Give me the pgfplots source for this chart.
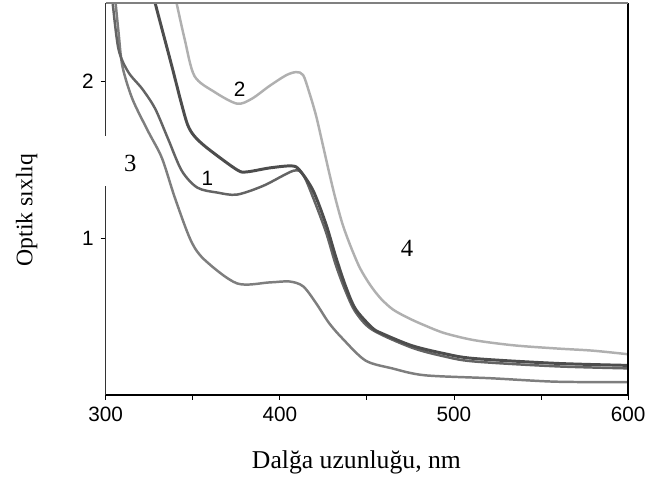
\documentclass[border=0pt]{standalone}
\usepackage{pgfplots}
\pgfplotsset{compat=1.18}
\usepackage{fontspec}
\setmainfont{Liberation Serif}
\newfontfamily\arial{Liberation Sans}
\definecolor{cLight}{HTML}{B0B0B0}
\definecolor{cDark}{HTML}{4D4D4D}
\definecolor{cMid}{HTML}{646464}
\definecolor{cLow}{HTML}{7E7E7E}
\begin{document}
\begin{tikzpicture}
\begin{axis}[
  scale only axis,
  width=264.5pt, height=198.5pt,
  xmin=300, xmax=600, ymin=0, ymax=2.5,
  axis line style={draw=none},
  xtick={300,400,500,600},
  minor xtick={350,450,550},
  ytick={1,2},
  tick align=outside,
  xtick pos=bottom, ytick pos=left,
  major tick length=2.5pt, minor tick length=2.5pt,
  tick style={black, line width=0.4pt},
  /pgf/number format/assume math mode=true,
  tick label style={font=\arial\fontsize{10.5}{12}\selectfont},
  xlabel={Dalğa uzunluğu, nm},
  ylabel={Optik sıxlıq},
  xlabel style={font=\fontsize{13}{15}\selectfont, at={(axis description cs:0.48,-0.172)}, anchor=center},
  ylabel style={font=\fontsize{12}{14}\selectfont, at={(axis description cs:-0.151,0.472)}, anchor=center},
]
% curve 2 (light)
\addplot[cLight, line width=1.25pt, smooth] coordinates {
(339.5,2.56) (340.3,2.52) (345.4,2.267) (351.0,2.034) (362.4,1.933) (375.4,1.858)
(383.9,1.889) (394.1,1.971) (403.8,2.040) (409.5,2.059) (413.4,2.040) (416.8,1.933)
(420.8,1.782) (424.8,1.590) (428.5,1.410) (432,1.250) (436,1.090) (440.6,0.950)
(446,0.81) (452,0.70) (458,0.615) (465,0.545) (474,0.49) (483,0.445) (494.5,0.395)
(511.5,0.350) (534.2,0.317) (558.6,0.297) (579.6,0.283) (600,0.260)
};
% lowest curve
\addplot[cLow, line width=1.25pt, smooth] coordinates {
(305.2,2.56) (305.7,2.50) (307.4,2.311) (309.6,2.097) (315.3,1.889) (324.4,1.681)
(332.3,1.511) (339.7,1.259) (348.8,0.988) (356.7,0.863) (375.4,0.712) (394.1,0.718)
(405.5,0.724) (413.4,0.693) (420.8,0.586) (428.2,0.460) (436.1,0.359) (449.2,0.220)
(464.5,0.170) (483.2,0.126) (521.2,0.107) (558.6,0.085) (600,0.082)
};
% curve 1 (medium dark)
\addplot[cMid, line width=1.25pt, smooth] coordinates {
(303.5,2.56) (304.0,2.50) (307.4,2.204) (313.0,2.059) (321.0,1.952) (328.4,1.826)
(335.7,1.637) (343.7,1.430) (352.7,1.322) (364.1,1.291) (375.4,1.278) (390.7,1.335)
(407.8,1.430) (413.4,1.404) (419.1,1.259) (426.5,1.039) (432.1,0.831) (437.8,0.661)
(443.5,0.529) (453.1,0.416) (475.8,0.302) (494.5,0.246) (511.5,0.214) (558.6,0.183)
(600,0.170)
};
% darkest curve
\addplot[cDark, line width=1.5pt, smooth] coordinates {
(327.5,2.56) (328.4,2.50) (338.0,2.097) (343,1.88) (347,1.725) (351,1.65) (358.4,1.574)
(375.4,1.436) (381.1,1.423) (394.1,1.448) (406.6,1.461) (411.2,1.436) (419.1,1.304)
(426.5,1.089) (432.1,0.882) (437.8,0.693) (443.5,0.548) (453.1,0.428) (458.8,0.392)
(475.8,0.315) (494.5,0.264) (511.5,0.233) (558.6,0.202) (600,0.189)
};
\coordinate (SW) at (rel axis cs:0,0);
\coordinate (SE) at (rel axis cs:1,0);
\coordinate (NE) at (rel axis cs:1,1);
\coordinate (NW) at (rel axis cs:0,1);
\coordinate (g1) at (axis cs:296,1.335);
\coordinate (g2) at (axis cs:304,1.65);
\coordinate (L1) at (axis cs:358.4,1.379);
\coordinate (L2) at (axis cs:377,1.95);
\coordinate (L3) at (axis cs:314.2,1.474);
\coordinate (L4) at (axis cs:473,0.932);
\end{axis}
\draw[black, line width=0.6pt] (SW) -- (SE);
\draw[black, line width=0.8pt] (SE) -- (NE);
\draw[gray, line width=1.0pt] (NE) -- (NW);
\draw[black!80, line width=0.7pt] (NW) -- (SW);
\fill[white] (g1) rectangle (g2);
\node[font=\arial\fontsize{10.5}{12}\selectfont] at (L1) {1};
\node[font=\arial\fontsize{10.5}{12}\selectfont] at (L2) {2};
\node[font=\fontsize{12.5}{14}\selectfont] at (L3) {3};
\node[font=\fontsize{12.5}{14}\selectfont] at (L4) {4};
\path (SW) ++(-53.5pt,-50pt) coordinate (BB1);
\path (NE) ++(8pt,1.5pt) coordinate (BB2);
\path (BB1) rectangle (BB2);
\end{tikzpicture}
\end{document}
